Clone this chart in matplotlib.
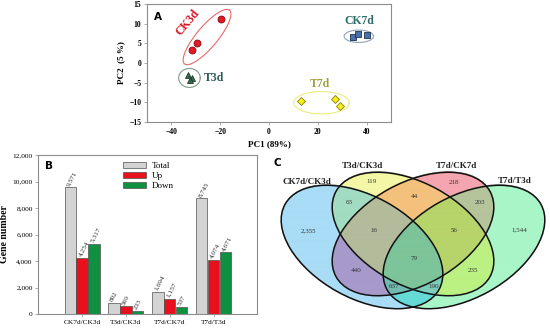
import numpy as np
import matplotlib
matplotlib.use('Agg')
import matplotlib.pyplot as plt
from matplotlib.patches import Ellipse

plt.rcParams['font.family'] = ['Liberation Serif', 'DejaVu Serif']

# ---- panel A: PCA scores
ck3d_pc1 = [-31.7, -29.4, -19.6]
ck3d_pc2 = [3.3, 5.2, 11.2]
t3d_pc1 = [-33.2, -31.5, -32.4]
t3d_pc2 = [-3.0, -3.8, -4.4]
ck7d_pc1 = [34.5, 36.5, 40.0]
ck7d_pc2 = [6.7, 7.4, 7.2]
t7d_pc1 = [13.0, 27.2, 29.1]
t7d_pc2 = [-9.6, -9.1, -10.9]

# ---- panel B: DEG counts
comparisons = ['CK7d/CK3d', 'T3d/CK3d', 'T7d/CK7d', 'T7d/T3d']
total = [9571, 802, 1694, 8745]
up = [4254, 569, 1157, 4074]
down = [5317, 233, 537, 4671]

# ---- panel C: venn counts (blue, yellow, pink, green membership)
set_names = ['CK7d/CK3d', 'T3d/CK3d', 'T7d/CK7d', 'T7d/T3d']
venn_regions = [(1,0,0,0), (1,1,0,0), (0,1,0,0), (0,1,1,0), (0,0,1,0), (0,0,1,1),
                (0,0,0,1), (1,1,1,0), (0,1,1,1), (1,0,1,0), (1,1,1,1), (0,1,0,1),
                (1,0,1,1), (1,1,0,1)]
venn_counts = [2355, 63, 119, 44, 218, 203, 1544, 16, 56, 440, 79, 235, 637, 190]

W, H = 550, 332
fig = plt.figure(figsize=(5.5, 3.32), dpi=100)
frame_col = '#8c8c8c'

# ================= A =================
axA = fig.add_axes([147/W, 1-122/H, 244/W, 118/H])
axA.set_xlim(-50, 50)
axA.set_ylim(-15, 15)
sx = 244/100.
sy = 118/30.

def screen_ellipse(ax, cx, cy, a, b, ang, color):
    u = np.linspace(0, 2*np.pi, 200)
    t = np.deg2rad(ang)
    ex = cx + (a*np.cos(u)*np.cos(t) - b*np.sin(u)*np.sin(t))/sx
    ey = cy + (a*np.cos(u)*np.sin(t) + b*np.sin(u)*np.cos(t))/sy
    ax.plot(ex, ey, color=color, lw=0.8)

screen_ellipse(axA, -25.4, 6.6, 35, 10.5, 50, '#e86a6a')
screen_ellipse(axA, -32.6, -3.8, 10.8, 9.5, 0, '#7f9c8e')
screen_ellipse(axA, 36.8, 6.8, 14.7, 6.2, 0, '#8ea3b8')
screen_ellipse(axA, 21.5, -10.1, 27.8, 11.2, 0, '#ecec80')

axA.plot(ck3d_pc1, ck3d_pc2, 'o', ms=5, mfc='#e01a22', mec='#8b0a10', mew=0.6)
axA.plot(t3d_pc1, t3d_pc2, '^', ms=4.6, mfc='#3d6650', mec='#1f3a2c', mew=0.6)
axA.plot(ck7d_pc1, ck7d_pc2, 's', ms=4.3, mfc='#4a70a8', mec='#1f3050', mew=0.6)
axA.plot(t7d_pc1, t7d_pc2, 'D', ms=4.2, mfc='#f4ee1c', mec='#8b8000', mew=0.6)

axA.text(-33.5, 10.2, 'CK3d', color='#e01020', fontsize=8.5, fontweight='bold',
         rotation=50, ha='center', va='center')
axA.text(37.2, 10.6, 'CK7d', color='#2e6b6b', fontsize=8.5, fontweight='bold', ha='center', va='center')
axA.text(-22.5, -3.8, 'T3d', color='#2e5e5a', fontsize=8.5, fontweight='bold', ha='center', va='center')
axA.text(20.7, -5.3, 'T7d', color='#a0a040', fontsize=8.5, fontweight='bold', ha='center', va='center')
axA.text(0.03, 0.93, 'A', transform=axA.transAxes, fontsize=7.5, fontweight='bold',
         family='DejaVu Sans', va='top')

axA.set_xticks([-40, -20, 0, 20, 40])
axA.set_yticks([-15, -10, -5, 0, 5, 10, 15])
axA.set_xlabel('PC1 (89%)', fontsize=6.5, fontweight='bold', labelpad=3)
axA.set_ylabel('PC2  (5 %)', fontsize=6.5, fontweight='bold', labelpad=3)
axA.tick_params(labelsize=5.5, length=2, width=0.5, color=frame_col, pad=2)
for lab in axA.get_xticklabels() + axA.get_yticklabels():
    lab.set_fontweight('bold')
for s in axA.spines.values():
    s.set_color(frame_col)
    s.set_linewidth(0.8)

# ================= B =================
axB = fig.add_axes([38.3/W, 1-314/H, 219/W, 159/H])
x = np.arange(len(comparisons))
bw = 0.26
off = 0.27
b1 = axB.bar(x-off, total, bw, color='#d3d3d3', edgecolor='#505050', lw=0.5, label='Total')
b2 = axB.bar(x, up, bw, color='#e8101c', edgecolor='#505050', lw=0.5, label='Up')
b3 = axB.bar(x+off, down, bw, color='#0e9040', edgecolor='#505050', lw=0.5, label='Down')
for bars in (b1, b2, b3):
    for r in bars:
        h = r.get_height()
        axB.text(r.get_x()+r.get_width()*0.3, h+120, format(int(h), ','), fontsize=5.2,
                 rotation=62, rotation_mode='anchor', ha='left', va='center', color='#303030')
axB.set_xlim(-1, 4)
axB.set_ylim(0, 12000)
axB.set_yticks(np.arange(0, 12001, 2000))
axB.set_yticklabels([format(v, ',') for v in range(0, 12001, 2000)])
axB.set_xticks(x)
axB.set_xticklabels(comparisons)
axB.tick_params(labelsize=5.3, length=2, width=0.5, color=frame_col, pad=2)
axB.set_ylabel('Gene number', fontsize=7, fontweight='bold')
axB.yaxis.set_label_coords(-0.135, 0.5)
for s in axB.spines.values():
    s.set_color(frame_col)
    s.set_linewidth(0.8)
axB.legend(loc='upper left', bbox_to_anchor=(0.37, 0.98), frameon=False, fontsize=6.5,
           handlelength=2.6, handleheight=0.6, labelspacing=0.25, borderaxespad=0, handletextpad=0.6)
axB.text(0.03, 0.96, 'B', transform=axB.transAxes, fontsize=7.5, fontweight='bold',
         family='DejaVu Sans', va='top')

# ================= C =================
axC = fig.add_axes([270/W, 0, 280/W, 182/H])
axC.set_xlim(270, 550)
axC.set_ylim(332, 150)
axC.axis('off')

ell_a, ell_b, ell_t = 88, 51, 29
ell_centers = [(362, 247), (413, 234), (413, 234), (464, 247)]
ell_angles = [ell_t, ell_t, -ell_t, -ell_t]
region_cols = {
    (1,0,0,0): '#a9dcf6', (0,1,0,0): '#f4f7a6', (0,0,1,0): '#f5a5af', (0,0,0,1): '#a9f6c8',
    (1,1,0,0): '#a2dcc2', (0,1,1,0): '#f3c17c', (0,0,1,1): '#b5c49a', (1,0,1,0): '#a79acb',
    (0,1,0,1): '#bbf182', (1,0,0,1): '#66dad6', (1,1,1,0): '#b3bb9b', (0,1,1,1): '#b7d46a',
    (1,0,1,1): '#72bab0', (1,1,0,1): '#7ccdba', (1,1,1,1): '#7dc49a',
}
gx = np.linspace(270, 550, 840)
gy = np.linspace(150, 332, 546)
XX, YY = np.meshgrid(gx, gy)
inside = []
for (cx, cy), ang in zip(ell_centers, ell_angles):
    t = np.deg2rad(ang)
    dx, dy = XX-cx, YY-cy
    u = dx*np.cos(t) + dy*np.sin(t)
    v = -dx*np.sin(t) + dy*np.cos(t)
    inside.append((u/ell_a)**2 + (v/ell_b)**2 <= 1)
img = np.zeros(XX.shape + (4,))
for key, col in region_cols.items():
    m = np.ones(XX.shape, bool)
    for k, flag in enumerate(key):
        m &= inside[k] if flag else ~inside[k]
    img[m] = matplotlib.colors.to_rgba(col)
axC.imshow(img, extent=(270, 550, 332, 150), origin='upper', interpolation='bilinear', aspect='auto')
for (cx, cy), ang in zip(ell_centers, ell_angles):
    axC.add_patch(Ellipse((cx, cy), 2*ell_a, 2*ell_b, angle=ang, fill=False, ec='#111111', lw=1.1))

label_pos = [(308, 231), (349, 202), (372, 182), (414, 197), (454, 183), (480, 202),
             (519, 230), (374, 231), (454, 231), (356, 270), (414, 259), (473, 270),
             (394, 286), (434, 286)]
for (px, py), n in zip(label_pos, venn_counts):
    axC.text(px, py, format(n, ','), fontsize=5, ha='center', va='center', color='#333333')
name_pos = [(307, 182), (362, 166), (456, 166), (515, 181)]
for (px, py), nm in zip(name_pos, set_names):
    axC.text(px, py, nm, fontsize=6.5, fontweight='bold', ha='center', va='center', color='#202020')
axC.text(277, 163, 'C', fontsize=7.5, fontweight='bold', family='DejaVu Sans', ha='center', va='center')

fig.savefig('out.png', dpi=100)
